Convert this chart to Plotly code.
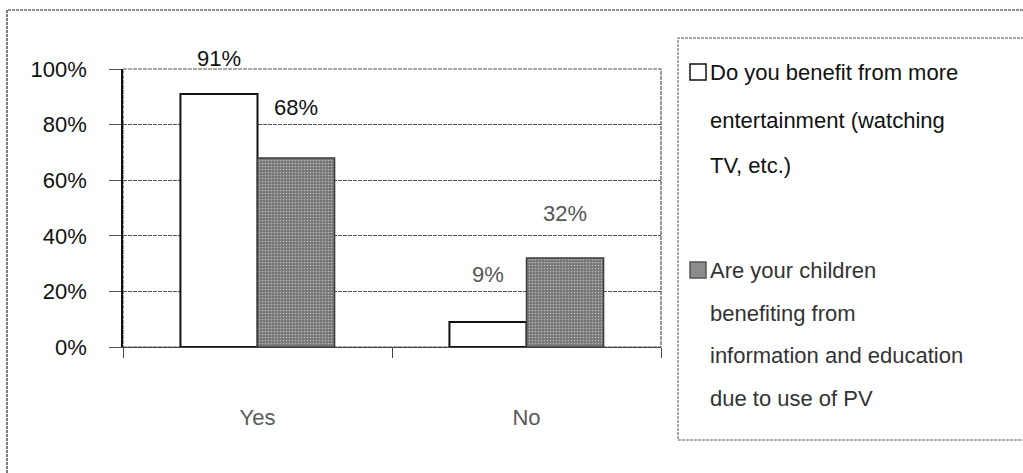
import plotly.graph_objects as go

# ---- data -------------------------------------------------------------
categories = ["Yes", "No"]
entertainment = [0.91, 0.09]
children_education = [0.68, 0.32]
legend_lines = [
    ["Do you benefit from more", "entertainment (watching", "TV, etc.)"],
    ["Are your children", "benefiting from", "information and education", "due to use of PV"],
]
y_ticks = [0, 0.2, 0.4, 0.6, 0.8, 1.0]

# ---- layout helpers ---------------------------------------------------
W, H = 1023, 473
PL, PR, PT, PB = 123, 661, 69, 347  # plot-area edges in pixels


def px_x(x):
    return (x - PL) / (PR - PL)


def px_y(y):
    return (PB - y) / (PB - PT)


FONT = "Liberation Sans, Arial, sans-serif"
FS = 22
BARGAP = 0.427
GRAY_FILL = "#767676"

fig = go.Figure()
fig.add_trace(go.Bar(
    x=categories, y=entertainment, name=" ".join(legend_lines[0]),
    marker=dict(color="white", line=dict(color="#111111", width=2)),
))
fig.add_trace(go.Bar(
    x=categories, y=children_education, name=" ".join(legend_lines[1]),
    marker=dict(
        color=GRAY_FILL,
        line=dict(color="#3c3c3c", width=1.5),
        pattern=dict(shape=".", fgcolor="#b8b8b8", bgcolor=GRAY_FILL,
                     size=3, solidity=0.25, fillmode="replace"),
    ),
))

# value labels above the bars
label_lift = [[36, 47], [50, 45]]          # pixels above each bar top
label_color = [["#111111", "#555555"], ["#111111", "#555555"]]
half = (1 - BARGAP) / 4
for s, vals in enumerate([entertainment, children_education]):
    for i, v in enumerate(vals):
        fig.add_annotation(
            x=i + (2 * s - 1) * half, y=v, text=f"{v:.0%}",
            showarrow=False, yanchor="middle", yshift=label_lift[s][i],
            font=dict(family=FONT, size=FS, color=label_color[s][i]),
        )

# legend drawn beside the plot
line_y = [[72, 120, 165], [270, 313, 355, 398]]
text_color = ["#111111", "#333333"]
sym_fill = ["white", "#8c8c8c"]
sym_line = ["#111111", "#555555"]
for s, lines in enumerate(legend_lines):
    y0 = line_y[s][0]
    fig.add_shape(type="rect", xref="paper", yref="paper",
                  x0=px_x(690), x1=px_x(706), y0=px_y(y0 + 8), y1=px_y(y0 - 8),
                  fillcolor=sym_fill[s], line=dict(color=sym_line[s], width=1.5))
    for k, txt in enumerate(lines):
        fig.add_annotation(
            xref="paper", yref="paper", x=px_x(708), y=px_y(line_y[s][k]),
            xanchor="left", yanchor="middle", text=txt, showarrow=False,
            font=dict(family=FONT, size=FS, color=text_color[s]),
        )

# frames: outer page frame, legend box, plot-area border
fig.add_shape(type="rect", xref="paper", yref="paper",
              x0=px_x(7), x1=px_x(1040), y0=px_y(500), y1=px_y(10),
              line=dict(color="#222222", width=1.2, dash="3px,1px"), layer="below")
fig.add_shape(type="rect", xref="paper", yref="paper",
              x0=px_x(678), x1=px_x(1040), y0=px_y(440), y1=px_y(38),
              line=dict(color="#555555", width=1, dash="3px,1px"), layer="below")
fig.add_shape(type="rect", xref="paper", yref="paper",
              x0=0, x1=1, y0=0, y1=1,
              line=dict(color="#555555", width=1.2, dash="4px,1px"), layer="below")

fig.update_xaxes(
    type="category", range=[-0.5, 1.5], showgrid=False,
    showline=True, linecolor="#444444", linewidth=1.2,
    ticks="outside", tickson="boundaries", ticklen=10, tickcolor="#444444",
    tickfont=dict(family=FONT, size=FS, color="#5a5a5a"), ticklabelstandoff=50,
)
fig.update_yaxes(
    range=[0, 1], tickvals=y_ticks, tickformat=".0%", zeroline=False,
    showline=True, linecolor="#111111", linewidth=1.5,
    ticks="outside", ticklen=12, tickcolor="#555555",
    showgrid=True, gridcolor="#555555", gridwidth=1.2, griddash="4px,1px",
    tickfont=dict(family=FONT, size=FS, color="#111111"), ticklabelstandoff=18,
)

fig.update_layout(
    width=W, height=H,
    margin=dict(l=PL, r=W - PR, t=PT, b=H - PB, pad=0),
    barmode="group", bargap=BARGAP, bargroupgap=0,
    showlegend=False,
    paper_bgcolor="white", plot_bgcolor="white",
    font=dict(family=FONT, size=FS, color="#111111"),
)

fig.write_html("out.html")
